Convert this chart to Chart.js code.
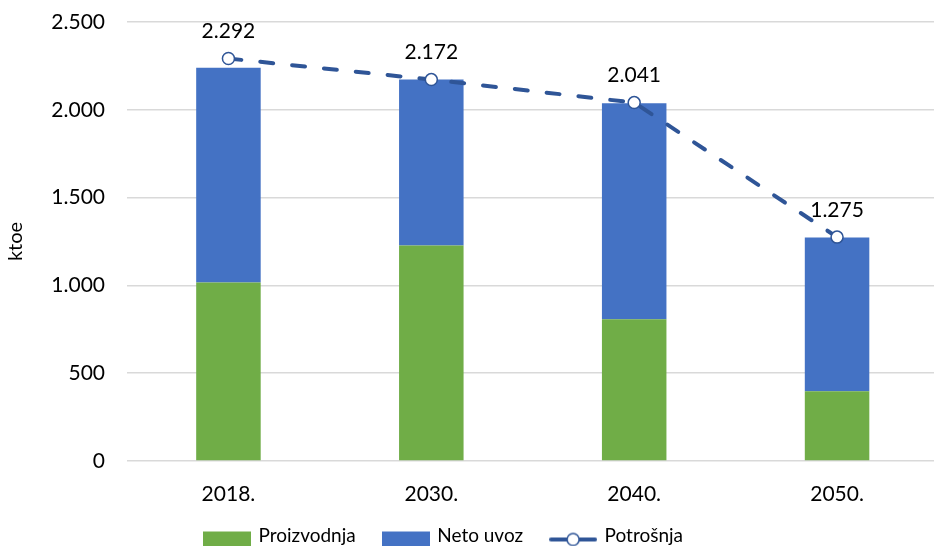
<!DOCTYPE html>
<html>
<head>
<meta charset="utf-8">
<script src="https://cdn.jsdelivr.net/npm/chart.js@4.4.1/dist/chart.umd.min.js"></script>
<style>
  html, body { margin: 0; padding: 0; background: #fff; overflow: hidden; }
  #wrap { width: 934px; height: 546px; overflow: hidden; }
</style>
</head>
<body>
<div id="wrap"><canvas id="chart" width="946" height="546"></canvas></div>
<script>
// energy balance chart - stacked bars + consumption line
const years = ['2018.', '2030.', '2040.', '2050.'];
const proizvodnja = [1017, 1227, 807, 397];
const netoUvoz = [1223, 945, 1231, 876];
const potrosnja = [2292, 2172, 2041, 1275];
const yTicks = [0, 500, 1000, 1500, 2000, 2500];

const GREEN = '#70AD47';
const BLUE = '#4472C4';
const LINE = '#2F5597';
const FONT = 'Lato, "Open Sans", sans-serif';

const fmt = v => v.toLocaleString('de-DE');

// legend symbols (drawn a bit low inside a taller canvas)
function rectIcon(color) {
  const c = document.createElement('canvas');
  c.width = 48; c.height = 24;
  const g = c.getContext('2d');
  g.fillStyle = color;
  g.fillRect(0, 8, 48, 16);
  return c;
}
function lineIcon() {
  const c = document.createElement('canvas');
  c.width = 48; c.height = 24;
  const g = c.getContext('2d');
  g.strokeStyle = LINE;
  g.lineWidth = 4;
  g.lineCap = 'round';
  g.beginPath(); g.moveTo(2, 16); g.lineTo(46, 16); g.stroke();
  g.fillStyle = '#fff';
  g.lineWidth = 1.5;
  g.beginPath(); g.arc(24, 16, 6, 0, Math.PI * 2); g.fill(); g.stroke();
  return c;
}
const icons = [rectIcon(GREEN), rectIcon(BLUE), lineIcon()];

const valueLabels = {
  id: 'valueLabels',
  afterDatasetsDraw(chart) {
    const meta = chart.getDatasetMeta(2);
    const ctx = chart.ctx;
    ctx.save();
    ctx.font = '21px ' + FONT;
    ctx.fillStyle = '#000';
    ctx.textAlign = 'center';
    ctx.textBaseline = 'middle';
    meta.data.forEach((pt, i) => {
      ctx.fillText(fmt(potrosnja[i]), pt.x, pt.y - 27);
    });
    ctx.restore();
  }
};

const shiftLegend = {
  id: 'shiftLegend',
  afterLayout(chart) {
    const lg = chart.legend;
    lg.left -= 31; lg.right -= 31;
    lg.top -= 7; lg.bottom -= 7;
  }
};

new Chart(document.getElementById('chart'), {
  data: {
    labels: years,
    datasets: [
      {
        type: 'bar', label: 'Proizvodnja', data: proizvodnja,
        backgroundColor: GREEN, stack: 'bars', order: 1,
        barPercentage: 0.318, categoryPercentage: 1
      },
      {
        type: 'bar', label: 'Neto uvoz', data: netoUvoz,
        backgroundColor: BLUE, stack: 'bars', order: 1,
        barPercentage: 0.318, categoryPercentage: 1
      },
      {
        type: 'line', label: 'Potrošnja', data: potrosnja,
        stack: 'line', order: 0,
        borderColor: LINE, borderWidth: 4, borderDash: [13, 19],
        borderCapStyle: 'round', tension: 0, fill: false,
        pointRadius: 6, pointBorderWidth: 1.5,
        pointBackgroundColor: '#fff', pointBorderColor: LINE
      }
    ]
  },
  options: {
    responsive: false,
    animation: false,
    layout: { padding: { top: 22, right: 0, bottom: -16, left: 4 } },
    plugins: {
      tooltip: { enabled: false },
      legend: {
        position: 'bottom',
        labels: {
          usePointStyle: true,
          pointStyleWidth: 44,
          padding: 28,
          color: '#000',
          font: { family: FONT, size: 19 },
          sort: (a, b) => a.datasetIndex - b.datasetIndex,
          generateLabels(chart) {
            return chart.data.datasets.map((ds, i) => ({
              text: ds.label,
              datasetIndex: i,
              pointStyle: icons[i],
              fillStyle: 'transparent',
              strokeStyle: 'transparent',
              lineWidth: 0,
              fontColor: '#000'
            }));
          }
        }
      }
    },
    scales: {
      x: {
        stacked: true,
        grid: { display: false },
        border: { display: false },
        ticks: { color: '#000', font: { family: FONT, size: 21 }, padding: 13 },
        afterFit(s) { s.height = 44; }
      },
      y: {
        stacked: true,
        min: 0, max: 2500,
        afterBuildTicks(s) { s.ticks = yTicks.map(v => ({ value: v })); },
        grid: { color: '#d9d9d9', lineWidth: 1.5, drawTicks: false },
        border: { display: false },
        ticks: { color: '#000', font: { family: FONT, size: 21 }, padding: 22, callback: v => fmt(v) },
        title: { display: true, text: 'ktoe', color: '#000', font: { family: FONT, size: 20 }, padding: 0 },
        afterFit(s) { s.width = 123; s.paddingTop = 0; s.paddingBottom = 0; }
      }
    }
  },
  plugins: [valueLabels, shiftLegend]
});
</script>
</body>
</html>
